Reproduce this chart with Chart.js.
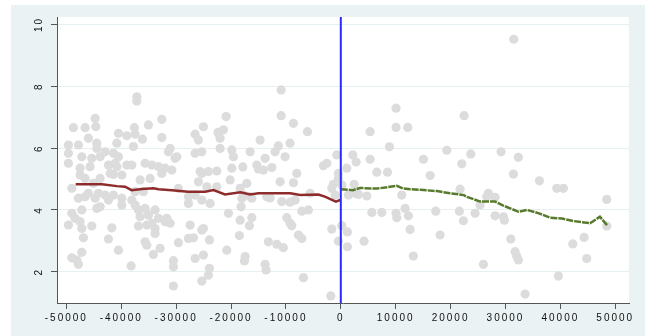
<!DOCTYPE html>
<html>
<head>
<meta charset="utf-8">
<script src="https://cdn.jsdelivr.net/npm/chart.js@4/dist/chart.umd.min.js"></script>
<style>
  html, body { margin: 0; padding: 0; background: #ffffff; }
  #wrap { width: 647px; height: 336px; }
</style>
</head>
<body>
<div id="wrap"><canvas id="c" width="647" height="336"></canvas></div>
<script>
// 散布点（灰色）
const dotX = [
  -37160, -37160, -44750, -32600, -48710, -46580, -44630, -35050, -37600, -40510,
  -38980, -37470, -36140, -45980, -32600, -26540, -25940, -25030, -49620, -47800,
  -44450, -40800, -37780, -44450, -49620, -47180, -45360, -43840, -42930, -41420,
  -40510, -31090, -31400, -30180, -26540, -25320, -49620, -47490, -45670, -42330,
  -41110, -38980, -38070, -35650, -34430, -33220, -32000, -30780, -47490, -46580,
  -41420, -39890, -36560, -34740, -32600, -25320, -25940, -49000, -45980, -44150,
  -42930, -41420, -37470, -35960, -29580, -26540, -47800, -46580, -44750, -42330,
  -39890, -38070, -27760, -27760, -25320, -47180, -44450, -43840, -39890, -37470,
  -36870, -35650, -33830, -49000, -48400, -47490, -49620, -47180, -45360, -41710,
  -36870, -35340, -34430, -33830, -36560, -35050, -33220, -32000, -31090, -31690,
  -27450, -25320, -46890, -42330, -35650, -35340, -33830, -29580, -27760, -26850,
  -40510, -32920, -34140, -47180, -49000, -48090, -47800, -38200, -30490, -30490,
  -26540, -25030, -30490, -25320, -45060, -43840, -42020, -40800, -23930, -24120,
  -23930, -22350, -29870,
  -10870, -20890, -10870, -8630, -6080, -22300, -21380, -21990, -14700, -21990,
  -19850, -19560, -16520, -11370, -11970, -13790, -10150, -9240, -730, -2550,
  -3170, -25630, -24120, -22590, -19850, -17850, -15300, -15010, -14100, -12570,
  -8020, -440, -440, -20160, -17120, -18340, -11060, -8630, -24410, -22590,
  -5590, -1350, -1040, -1640, -17740, -16520, -13480, -23810, -18030, -16210,
  -12880, -10750, -9240, -8320, -18160, -20470, -18340, -16210, -16650, -9840,
  -9240, -8930, -7100, -5900, -25030, -18470, -13190, -11660, -10460, -7720,
  -7100, -1640, 180, -440, -20770, -17430, -17560, -13790, -13610, -6810,
  -1820,
  10070, 22460, 5340, 10070, 12200, 8850, 2190, 2790, 1090, 5340,
  6560, 8490, 15050, 19310, 16270, 22040, 23680, 29200, 32350, 31440,
  36180, 39340, 40550, 48450, 21730, 26890, 28110, 200, 2420, 2610,
  11110, 4740, 1380, 3210, 5650, 7470, 10070, 10200, 11710, 12310,
  12620, 17300, 18090, 21600, 22330, 24460, 25370, 28110, 29620, 29800,
  26590, 1200, 1200, 4240, 13220, 25980, 30970, 31750, 32060, 32350,
  33570, 39640, 42260, 44320, 44810, 48450, 31510
];
const dotY = [
  7.66, 7.52, 6.96, 6.93, 6.66, 6.66, 6.69, 6.75, 6.66, 6.48,
  6.40, 6.45, 6.29, 6.32, 6.34, 6.45, 6.26, 6.69, 6.10, 6.10,
  6.16, 6.16, 6.05, 5.99, 5.83, 5.72, 5.67, 5.72, 5.88, 5.83,
  5.72, 5.99, 5.88, 5.67, 5.83, 5.88, 5.51, 5.35, 5.40, 5.45,
  5.51, 5.45, 5.45, 5.51, 5.45, 5.40, 5.35, 5.29, 5.13, 5.02,
  5.15, 5.13, 4.97, 5.02, 5.18, 5.18, 4.91, 4.70, 4.54, 4.54,
  4.48, 4.48, 4.59, 4.59, 4.70, 4.48, 4.38, 4.43, 4.38, 4.32,
  4.38, 4.32, 4.43, 4.21, 4.32, 4.00, 4.05, 4.10, 4.16, 4.16,
  4.00, 4.05, 4.00, 3.89, 3.73, 3.62, 3.51, 3.40, 3.48, 3.42,
  3.48, 3.51, 3.57, 3.40, 3.78, 3.83, 3.73, 3.62, 3.57, 3.73,
  3.51, 3.35, 3.10, 3.06, 2.97, 2.86, 3.24, 2.94, 3.08, 3.10,
  2.70, 2.76, 2.56, 2.63, 2.45, 2.38, 2.24, 2.19, 2.36, 2.16,
  2.43, 2.54, 1.54, 1.70, 4.86, 5.02, 5.18, 5.40, 3.03, 1.89,
  2.11, 6.51, 5.72,
  7.88, 7.02, 7.05, 6.80, 6.53, 6.48, 6.59, 6.32, 6.26, 5.99,
  5.94, 5.72, 5.88, 6.07, 5.88, 5.67, 5.72, 6.16, 5.78, 5.51,
  5.43, 5.24, 5.24, 5.26, 5.35, 5.39, 5.45, 5.32, 5.29, 5.37,
  5.18, 5.18, 5.02, 4.97, 4.86, 4.70, 4.91, 4.88, 4.75, 4.75,
  4.54, 4.83, 4.48, 4.70, 4.48, 4.43, 4.43, 4.21, 4.38, 4.38,
  4.39, 4.27, 4.25, 4.32, 4.10, 3.89, 3.67, 3.75, 3.49, 3.75,
  3.57, 3.49, 3.96, 4.00, 3.40, 3.17, 2.97, 2.89, 2.78, 3.19,
  3.08, 3.38, 3.49, 2.99, 2.70, 2.49, 2.35, 2.24, 2.06, 1.81,
  1.22,
  7.29, 7.05, 6.53, 6.67, 6.67, 6.04, 5.78, 5.55, 5.35, 5.64,
  5.22, 5.22, 5.64, 5.93, 5.11, 5.49, 5.81, 5.88, 5.70, 5.16,
  4.94, 4.70, 4.70, 4.34, 4.67, 4.54, 4.41, 4.81, 4.83, 4.54,
  4.48, 4.45, 4.48, 4.50, 3.92, 3.92, 3.89, 3.75, 4.05, 3.81,
  3.37, 3.96, 3.19, 3.96, 3.65, 3.89, 4.16, 3.81, 3.78, 3.67,
  4.43, 3.29, 2.81, 2.99, 2.51, 2.24, 3.06, 2.65, 2.49, 2.38,
  1.28, 1.86, 2.90, 3.11, 2.43, 3.48, 9.52
];

// 左側の平滑線（赤）
const redX = [-48300, -43500, -40800, -39300, -38100, -36200, -34100, -33200, -30800, -27800,
  -24700, -23200, -21100, -18300, -16500, -15000, -9200, -7400, -4100, -2900, -900, 0];
const redY = [4.83, 4.83, 4.77, 4.75, 4.64, 4.68, 4.70, 4.67, 4.64, 4.59,
  4.59, 4.64, 4.50, 4.57, 4.50, 4.54, 4.54, 4.48, 4.50, 4.43, 4.27, 4.33];

// 右側の平滑線（緑）
const greenX = [0, 2200, 3500, 6600, 10200, 11400, 14500, 17500, 19900, 22400, 23000, 25400,
  28100, 29600, 32400, 33900, 36100, 38100, 40300, 42400, 45400, 47200, 48500];
const greenY = [4.67, 4.64, 4.71, 4.69, 4.78, 4.69, 4.65, 4.61, 4.54, 4.48, 4.42, 4.27,
  4.27, 4.14, 3.94, 4.00, 3.89, 3.75, 3.72, 3.64, 3.57, 3.78, 3.51];

// 軸の目盛り
const xTicks = [-50000, -40000, -30000, -20000, -10000, 0, 10000, 20000, 30000, 40000, 50000];
const yTicks = [2, 4, 6, 8, 10];
const cutoff = 0;

const toPoints = (xs, ys) => xs.map((x, i) => ({ x: x, y: ys[i] }));

// 背景とカットオフ線
const stataLook = {
  id: 'stataLook',
  beforeDraw(chart) {
    const ctx = chart.ctx;
    const a = chart.chartArea;
    ctx.save();
    ctx.fillStyle = '#ffffff';
    ctx.fillRect(0, 0, chart.width, chart.height);
    ctx.fillStyle = '#eaf2f3';
    ctx.fillRect(11, 5, 634, chart.height - 5);
    ctx.fillStyle = '#ffffff';
    ctx.fillRect(a.left, a.top, a.right - a.left, a.bottom - a.top);
    ctx.restore();
    ctx.letterSpacing = '2px';
  },
  afterDatasetsDraw(chart) {
    const ctx = chart.ctx;
    const a = chart.chartArea;
    const px = chart.scales.x.getPixelForValue(cutoff);
    ctx.save();
    ctx.strokeStyle = '#2a2aff';
    ctx.lineWidth = 2;
    ctx.beginPath();
    ctx.moveTo(px, a.top);
    ctx.lineTo(px, a.bottom);
    ctx.stroke();
    ctx.restore();
  }
};

new Chart(document.getElementById('c'), {
  type: 'scatter',
  data: {
    datasets: [
      {
        data: toPoints(redX, redY),
        showLine: true,
        borderColor: '#8e2c2c',
        borderWidth: 2.5,
        pointRadius: 0,
        order: 1
      },
      {
        data: toPoints(greenX, greenY),
        showLine: true,
        borderColor: '#587a2c',
        borderWidth: 2.5,
        borderDash: [7, 1],
        pointRadius: 0,
        order: 1
      },
      {
        data: toPoints(dotX, dotY),
        backgroundColor: '#dcdcdc',
        borderColor: '#dcdcdc',
        borderWidth: 0,
        pointRadius: 4.6,
        order: 3
      }
    ]
  },
  options: {
    responsive: false,
    animation: false,
    devicePixelRatio: 1,
    layout: { padding: { left: 0, right: 18, top: 17, bottom: 0 } },
    plugins: { legend: { display: false }, tooltip: { enabled: false } },
    scales: {
      x: {
        type: 'linear',
        min: -51700,
        max: 52500,
        afterBuildTicks: s => { s.ticks = xTicks.map(v => ({ value: v })); },
        afterFit: s => { s.height = 33; },
        grid: { drawOnChartArea: false, tickLength: 6, tickColor: '#555555' },
        border: { color: '#555555', width: 1 },
        ticks: {
          color: '#111111',
          padding: 3,
          maxRotation: 0,
          font: { family: 'Liberation Sans', size: 10 },
          callback: v => String(v)
        }
      },
      y: {
        type: 'linear',
        min: 0.99,
        max: 10.24,
        afterBuildTicks: s => { s.ticks = yTicks.map(v => ({ value: v })); },
        afterFit: s => { s.width = 57; },
        grid: { color: '#e6eff1', tickLength: 6, tickColor: '#555555' },
        border: { color: '#555555', width: 1 },
        ticks: {
          color: '#111111',
          padding: 6,
          minRotation: 90,
          maxRotation: 90,
          crossAlign: 'center',
          font: { family: 'Liberation Sans', size: 10 },
          callback: v => String(v)
        }
      }
    }
  },
  plugins: [stataLook]
});
</script>
</body>
</html>
